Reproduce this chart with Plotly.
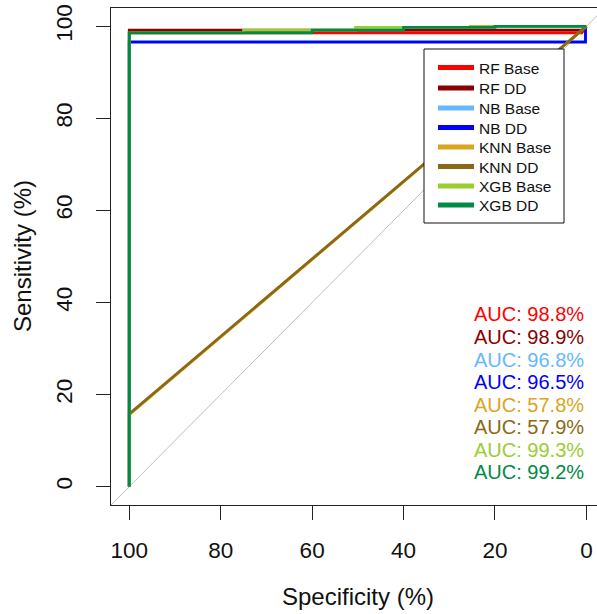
import plotly.graph_objects as go

# ---------------- data ----------------
models = ["RF Base", "RF DD", "NB Base", "NB DD", "KNN Base", "KNN DD", "XGB Base", "XGB DD"]
colors = ["#FF0000", "#8B0000", "#63B8FF", "#0000FF", "#DAA520", "#8B6914", "#9ACD32", "#008B45"]
auc_values = [98.8, 98.9, 96.8, 96.5, 57.8, 57.9, 99.3, 99.2]

spec_rf_base = [100, 100, 1.0, 0]
sens_rf_base = [0, 98.6, 98.6, 100]
spec_rf_dd = [100, 100, 1.0, 0]
sens_rf_dd = [0, 99.2, 99.2, 100]
spec_nb_base = [100, 100, 0.2, 0.2]
sens_nb_base = [0, 96.7, 96.7, 100]
spec_nb_dd = [100, 100, 0.2, 0.2]
sens_nb_dd = [0, 96.6, 96.6, 100]
spec_knn_base = [100, 100, 0]
sens_knn_base = [0, 15.6, 100]
spec_knn_dd = [100, 100, 0]
sens_knn_dd = [0, 15.8, 100]
spec_xgb_base = [100, 100, 75, 75, 50.5, 50.5, 25.4, 25.4, 0]
sens_xgb_base = [0, 98.6, 98.6, 99.2, 99.2, 99.8, 99.8, 100, 100]
spec_xgb_dd = [100, 100, 60, 60, 40, 40, 20, 20, 0]
sens_xgb_dd = [0, 98.6, 98.6, 99.2, 99.2, 99.8, 99.8, 100, 100]

curves_spec = [spec_rf_base, spec_rf_dd, spec_nb_base, spec_nb_dd,
               spec_knn_base, spec_knn_dd, spec_xgb_base, spec_xgb_dd]
curves_sens = [sens_rf_base, sens_rf_dd, sens_nb_base, sens_nb_dd,
               sens_knn_base, sens_knn_dd, sens_xgb_base, sens_xgb_dd]

x_ticks = [100, 80, 60, 40, 20, 0]
y_ticks = [0, 20, 40, 60, 80, 100]
x_title = "Specificity (%)"
y_title = "Sensitivity (%)"

FONT = "Liberation Sans, Arial, sans-serif"
TXT = "#111111"

# ---------------- figure ----------------
fig = go.Figure()

# identity (chance) line
fig.add_trace(go.Scatter(x=[104, -4], y=[-4, 104], mode="lines",
                         line=dict(color="#bdbdbd", width=1),
                         showlegend=False, hoverinfo="skip"))

for name, col, xs, ys in zip(models, colors, curves_spec, curves_sens):
    fig.add_trace(go.Scatter(x=xs, y=ys, mode="lines", name=name,
                             line=dict(color=col, width=2.8),
                             showlegend=False))

# legend entries (one legend per row to match the spacing)
leg_left_px = 433
row_centers_px = [68, 88.5, 108.5, 128, 147.5, 167, 186.5, 205.5]
plot_l, plot_r, plot_t, plot_b = 111, 597, 8, 505
W, H = 597, 614
pw, ph = plot_r - plot_l, plot_b - plot_t
legends = {}
for i, (name, col) in enumerate(zip(models, colors)):
    key = "legend" if i == 0 else f"legend{i+1}"
    fig.add_trace(go.Scatter(x=[None], y=[None], mode="lines", name=name,
                             line=dict(color=col, width=5),
                             showlegend=True, legend=key))
    legends[key] = dict(
        x=(leg_left_px - plot_l) / pw,
        y=(plot_b - row_centers_px[i]) / ph,
        xanchor="left", yanchor="middle",
        bgcolor="rgba(0,0,0,0)", borderwidth=0,
        itemwidth=36,
        font=dict(family=FONT, size=15.5, color=TXT),
    )

# legend box
fig.add_shape(type="rect", xref="paper", yref="paper",
              x0=(424 - plot_l) / pw, x1=(564 - plot_l) / pw,
              y0=(plot_b - 223) / ph, y1=(plot_b - 49) / ph,
              line=dict(color="#111111", width=1), fillcolor="white", layer="above")

# AUC texts
for i, (a, col) in enumerate(zip(auc_values, colors)):
    fig.add_annotation(x=0.1, y=37.4 - 4.9 * i, xref="x", yref="y",
                       text=f"AUC: {a:.1f}%", showarrow=False,
                       xanchor="right", yanchor="middle",
                       font=dict(family=FONT, size=20, color=col))

# axis titles
fig.add_annotation(x=(357.5 - plot_l) / pw, y=(plot_b - 597) / ph, xref="paper", yref="paper",
                   text=x_title, showarrow=False, xanchor="center", yanchor="middle",
                   font=dict(family=FONT, size=24, color=TXT))
fig.add_annotation(x=(22 - plot_l) / pw, y=(plot_b - 256) / ph, xref="paper", yref="paper",
                   text=y_title, showarrow=False, xanchor="center", yanchor="middle",
                   textangle=-90, font=dict(family=FONT, size=24, color=TXT))

fig.update_layout(
    width=W, height=H,
    margin=dict(l=plot_l, r=W - plot_r, t=plot_t, b=H - plot_b),
    paper_bgcolor="white", plot_bgcolor="white",
    font=dict(family=FONT, color=TXT),
    **legends,
)

fig.update_xaxes(range=[104, -2.32], tickvals=x_ticks, ticktext=[str(v) for v in x_ticks],
                 ticks="outside", ticklen=14, tickwidth=1, tickcolor="#222222",
                 showline=True, linecolor="#222222", linewidth=1, mirror=True,
                 showgrid=False, zeroline=False, ticklabelstandoff=11,
                 tickfont=dict(family=FONT, size=22.5, color=TXT))
fig.update_yaxes(range=[-4, 104], tickvals=y_ticks, ticktext=[str(v) for v in y_ticks],
                 ticks="outside", ticklen=14, tickwidth=1, tickcolor="#222222",
                 showline=True, linecolor="#222222", linewidth=1,
                 showgrid=False, zeroline=False, tickangle=-90, ticklabelstandoff=15,
                 tickfont=dict(family=FONT, size=22.5, color=TXT))

fig.write_html("out.html")
